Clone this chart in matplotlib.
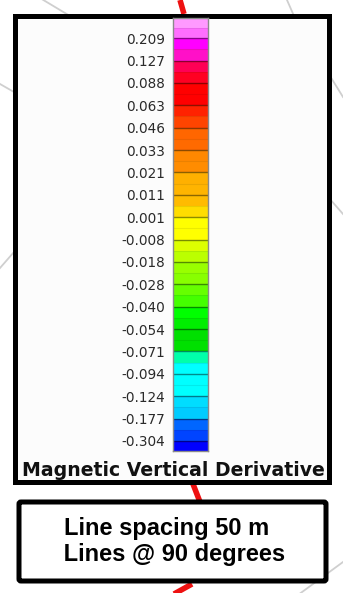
import matplotlib
matplotlib.use("Agg")
import matplotlib.pyplot as plt
from matplotlib.patches import Rectangle, FancyBboxPatch

# ---- data ----
tick_labels = ['0.209', '0.127', '0.088', '0.063', '0.046', '0.033', '0.021',
               '0.011', '0.001', '-0.008', '-0.018', '-0.028', '-0.040',
               '-0.054', '-0.071', '-0.094', '-0.124', '-0.177', '-0.304']
# colours of each class interval (upper half, lower half), top to bottom
upper_colors = ['#FF99FF', '#FF00FF', '#FF0055', '#FF0000', '#FF2200', '#FF6600',
                '#FF8800', '#FFB000', '#FFBB00', '#FFFF00', '#DDFF00', '#99FF00',
                '#66FF00', '#00FF00', '#00E000', '#00FFAA', '#00FFFF', '#00DDFF',
                '#0066FF', '#0000FF']
lower_colors = ['#FF6EFF', '#FF10C8', '#FF0022', '#FF0000', '#FF4400', '#FF6A00',
                '#FF8C00', '#FFB400', '#FFDD00', '#FFFF00', '#BBFF00', '#88FF00',
                '#44FF00', '#00EE00', '#00E000', '#00FFFF', '#00FFFF', '#00CCFF',
                '#0044FF', '#0000FF']
title = 'Magnetic Vertical Derivative'
note_lines = ['Line spacing 50 m', ' Lines @ 90 degrees']

W, H = 343, 593
fig = plt.figure(figsize=(W / 100, H / 100), dpi=100)

# background axes in pixel units for frames / decorations
bg = fig.add_axes([0, 0, 1, 1])
bg.set_xlim(0, W)
bg.set_ylim(H, 0)
bg.axis('off')

# faint map lines behind the legend
grey = '#cfcfcf'
for xs, ys in [([40, 70], [-2, 16]), ([0, 14], [84, 92]), ([287, 294], [0, 16]),
               ([330, 343], [76, 97]), ([329, 343], [198, 214]), ([0, 14], [268, 252]),
               ([298, 343], [595, 562])]:
    bg.plot(xs, ys, color=grey, lw=1.3, zorder=1)
# red survey line fragments
for xs, ys in [([180, 184], [0, 14]), ([193, 200], [484, 502]), ([174, 192], [594, 584])]:
    bg.plot(xs, ys, color='#ee1111', lw=4, zorder=1, solid_capstyle='butt')

# legend frame
bg.add_patch(Rectangle((15, 15.8), 313.5, 466, facecolor='#fcfcfc',
                       edgecolor='black', lw=3.6, zorder=2))
bg.text(173.5, 476.5, title, ha='center', va='baseline', fontsize=13.6,
        fontweight='bold', family='DejaVu Sans', color='#111111', zorder=3)

# note box
bg.add_patch(FancyBboxPatch((19, 502), 307, 79, boxstyle='round,pad=0,rounding_size=2',
                            facecolor='white', edgecolor='black', lw=3.6, zorder=2))
bg.text(64, 535, note_lines[0], ha='left', va='baseline', fontsize=17,
        fontweight='bold', family='Liberation Sans', color='black', zorder=3)
bg.text(57, 561, note_lines[1], ha='left', va='baseline', fontsize=17,
        fontweight='bold', family='Liberation Sans', color='black', zorder=3)

# colour bar axes
cb = fig.add_axes([173 / W, 1 - 451 / H, 35 / W, 433 / H])
cb.set_zorder(5)
n = len(tick_labels)
edges = [-0.9] + list(range(n)) + [n - 1 + 0.45]
for i in range(len(edges) - 1):
    a, b = edges[i], edges[i + 1]
    m = (a + b) / 2
    cb.bar(0.5, m - a, bottom=a, width=1, color=upper_colors[i], lw=0)
    cb.bar(0.5, b - m, bottom=m, width=1, color=lower_colors[i], lw=0)
    if i < len(edges) - 2:
        cb.axhline(m, color='black', alpha=0.08, lw=0.8)
for k in range(n):
    cb.axhline(k, color='black', alpha=0.45, lw=1.0)
cb.set_xlim(0, 1)
cb.set_ylim(edges[-1], edges[0])
cb.set_xticks([])
cb.set_yticks(range(n))
cb.set_yticklabels(tick_labels, fontsize=9.8, family='DejaVu Sans', color='#2a2a2a')
cb.tick_params(axis='y', length=0, pad=5.8)
for s in cb.spines.values():
    s.set_color('#8a8a8a')
    s.set_linewidth(1.0)

fig.savefig('out.png', dpi=100)
